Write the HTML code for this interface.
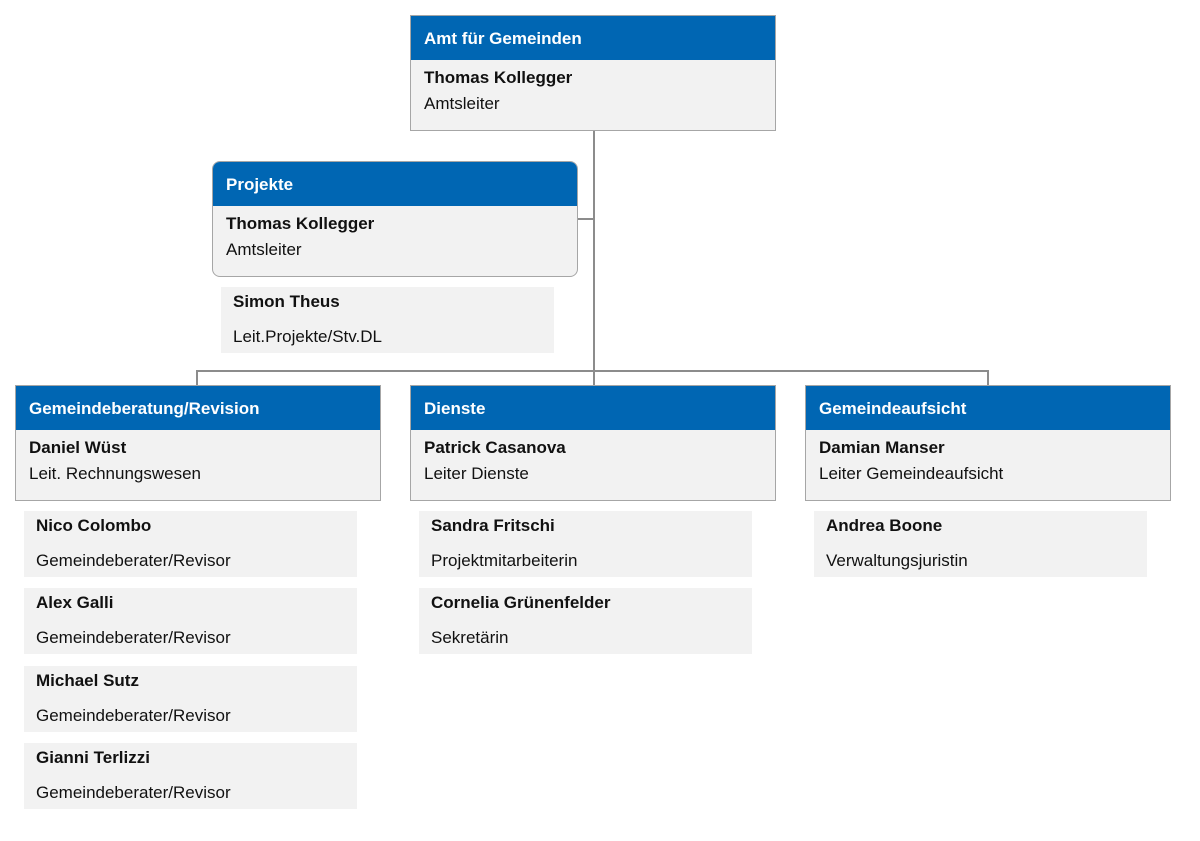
<!DOCTYPE html>
<html><head><meta charset="utf-8"><style>
body{margin:0;width:1200px;height:841px;background:#fff;position:relative;font-family:"Liberation Sans",Arial,sans-serif;overflow:hidden}
.box{position:absolute;width:363px;height:113px;background:#f2f2f2;border:1px solid #a6a6a6;box-sizing:border-box}
.hd{height:44px;background:#0066b3;color:#fff;font-weight:bold;font-size:17px;line-height:45px;padding-left:13px}
.nm{position:absolute;left:13px;top:52px;font-weight:bold;font-size:17px;color:#111}
.ti{position:absolute;left:13px;top:78px;font-size:17px;color:#111}
.st{position:absolute;width:333px;height:66px;background:#f2f2f2}
.st .a{position:absolute;left:12px;top:5px;font-weight:bold;font-size:17px;color:#111}
.st .b{position:absolute;left:12px;top:40px;font-size:17px;color:#111}
.l{position:absolute;background:#8c8c8c}
</style></head><body>
<div class="l" style="left:593px;top:130px;width:2px;height:255px"></div>
<div class="l" style="left:577px;top:218px;width:17px;height:2px"></div>
<div class="l" style="left:196px;top:370px;width:793px;height:2px"></div>
<div class="l" style="left:196px;top:370px;width:2px;height:15px"></div>
<div class="l" style="left:987px;top:370px;width:2px;height:15px"></div>

<div class="box" style="left:410px;top:15px;width:366px;height:116px"><div class="hd">Amt für Gemeinden</div><div class="nm">Thomas Kollegger</div><div class="ti">Amtsleiter</div></div>
<div class="box" style="left:212px;top:161px;width:366px;height:116px;border-radius:8px;overflow:hidden"><div class="hd">Projekte</div><div class="nm">Thomas Kollegger</div><div class="ti">Amtsleiter</div></div>
<div class="st" style="left:221px;top:287px"><div class="a">Simon Theus</div><div class="b">Leit.Projekte/Stv.DL</div></div>

<div class="box" style="left:15px;top:385px;width:366px;height:116px"><div class="hd">Gemeindeberatung/Revision</div><div class="nm">Daniel Wüst</div><div class="ti">Leit. Rechnungswesen</div></div>
<div class="box" style="left:410px;top:385px;width:366px;height:116px"><div class="hd">Dienste</div><div class="nm">Patrick Casanova</div><div class="ti">Leiter Dienste</div></div>
<div class="box" style="left:805px;top:385px;width:366px;height:116px"><div class="hd">Gemeindeaufsicht</div><div class="nm">Damian Manser</div><div class="ti">Leiter Gemeindeaufsicht</div></div>

<div class="st" style="left:24px;top:511px"><div class="a">Nico Colombo</div><div class="b">Gemeindeberater/Revisor</div></div>
<div class="st" style="left:24px;top:588px"><div class="a">Alex Galli</div><div class="b">Gemeindeberater/Revisor</div></div>
<div class="st" style="left:24px;top:666px"><div class="a">Michael Sutz</div><div class="b">Gemeindeberater/Revisor</div></div>
<div class="st" style="left:24px;top:743px"><div class="a">Gianni Terlizzi</div><div class="b">Gemeindeberater/Revisor</div></div>
<div class="st" style="left:419px;top:511px"><div class="a">Sandra Fritschi</div><div class="b">Projektmitarbeiterin</div></div>
<div class="st" style="left:419px;top:588px"><div class="a">Cornelia Grünenfelder</div><div class="b">Sekretärin</div></div>
<div class="st" style="left:814px;top:511px"><div class="a">Andrea Boone</div><div class="b">Verwaltungsjuristin</div></div>
</body></html>
